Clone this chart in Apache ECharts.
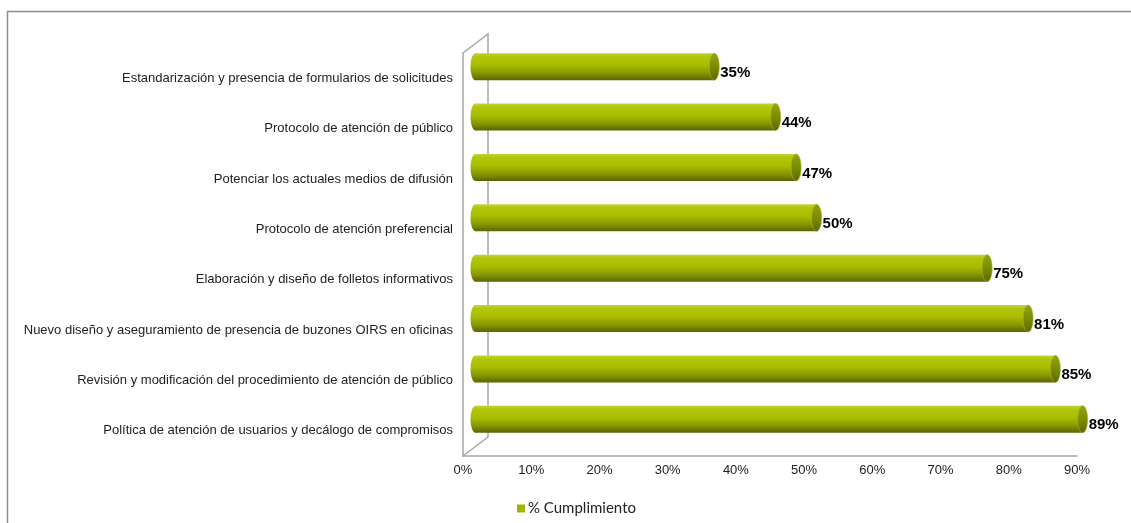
<!DOCTYPE html>
<html>
<head>
<meta charset="utf-8">
<script src="https://cdn.jsdelivr.net/npm/echarts@6/dist/echarts.min.js"></script>
<style>
  html, body { margin: 0; padding: 0; background: #ffffff; }
  #chart { width: 1131px; height: 523px; }
</style>
</head>
<body>
<div id="chart"></div>
<script>
// Compliance per improvement action (share of 1)
const categories = [
  'Estandarización y presencia de formularios de solicitudes',
  'Protocolo de atención de público',
  'Potenciar los actuales medios de difusión',
  'Protocolo de atención preferencial',
  'Elaboración y diseño de folletos informativos',
  'Nuevo diseño y aseguramiento de presencia de buzones OIRS en oficinas',
  'Revisión y modificación del procedimiento de atención de público',
  'Política de atención de usuarios y decálogo de compromisos'
];
const cumplimiento = [0.35, 0.44, 0.47, 0.50, 0.75, 0.81, 0.85, 0.89];
const tickValues = [0, 0.1, 0.2, 0.3, 0.4, 0.5, 0.6, 0.7, 0.8, 0.9];
const seriesName = '% Cumplimiento';

const chart = echarts.init(document.getElementById('chart'));

// depth of the 3D box (back wall offset) and bar placement at mid-depth
const DEPTH_X = 25, DEPTH_Y = -19;
const BAR_DX = 12.5, BAR_DY = -11.5;
const BAR_H = 27, CAP_RX = 5;

const bodyFill = {
  type: 'linear', x: 0, y: 0, x2: 0, y2: 1,
  colorStops: [
    { offset: 0, color: '#c4d43a' },
    { offset: 0.12, color: '#b3c70a' },
    { offset: 0.45, color: '#a9bc00' },
    { offset: 0.75, color: '#859500' },
    { offset: 1, color: '#5a6400' }
  ]
};
const capFill = {
  type: 'linear', x: 0, y: 0, x2: 0, y2: 1,
  colorStops: [
    { offset: 0, color: '#93a414' },
    { offset: 0.5, color: '#7c8c00' },
    { offset: 1, color: '#5c6700' }
  ]
};

function renderBar(params, api) {
  const c = api.value(1);
  const v = api.value(0);
  const p0 = api.coord([0, c]);
  const p1 = api.coord([v, c]);
  const x0 = p0[0] + BAR_DX;
  const x1 = p1[0] + BAR_DX;
  const cy = p0[1] + BAR_DY;
  return {
    type: 'group',
    children: [
      { type: 'ellipse', shape: { cx: x0, cy: cy, rx: CAP_RX, ry: BAR_H / 2 },
        style: { fill: bodyFill } },
      { type: 'rect', shape: { x: x0, y: cy - BAR_H / 2, width: x1 - x0, height: BAR_H },
        style: { fill: bodyFill } },
      { type: 'ellipse', shape: { cx: x1, cy: cy, rx: CAP_RX, ry: BAR_H / 2 },
        style: { fill: capFill, stroke: '#a8b830', lineWidth: 0.6 } },
      { type: 'text', x: x1 + CAP_RX + 1, y: cy + 6,
        style: {
          text: Math.round(v * 100) + '%',
          fill: '#000000',
          font: 'bold 15px "Liberation Sans", Arial, sans-serif',
          textAlign: 'left', textVerticalAlign: 'middle'
        } }
    ]
  };
}

// side wall and floor edges of the 3D box
function renderWalls(params, api) {
  const cs = params.coordSys;
  const left = cs.x, top = cs.y, bottom = cs.y + cs.height;
  return {
    type: 'polyline',
    shape: {
      points: [
        [left, bottom],
        [left + DEPTH_X, bottom + DEPTH_Y],
        [left + DEPTH_X, top + DEPTH_Y],
        [left, top]
      ]
    },
    style: { stroke: '#a6a6a6', lineWidth: 1.5, fill: null },
    silent: true
  };
}

chart.setOption({
  animation: false,
  backgroundColor: '#ffffff',
  grid: { left: 463, right: 54, top: 53, bottom: 67, containLabel: false },
  xAxis: {
    type: 'value',
    min: 0, max: 0.9, interval: 0.1,
    axisLine: { show: true, lineStyle: { color: '#a6a6a6', width: 1.5 } },
    axisTick: { show: false },
    splitLine: { show: false },
    axisLabel: {
      margin: 8,
      color: '#222222',
      fontSize: 13,
      fontFamily: '"Liberation Sans", Arial, sans-serif',
      formatter: function (val) {
        const i = tickValues.findIndex(t => Math.abs(t - val) < 1e-9);
        return i >= 0 ? Math.round(tickValues[i] * 100) + '%' : '';
      }
    }
  },
  yAxis: {
    type: 'category',
    data: categories,
    inverse: true,
    axisLine: { show: true, lineStyle: { color: '#a6a6a6', width: 1.5 } },
    axisTick: { show: false },
    splitLine: { show: false },
    axisLabel: {
      margin: 10,
      color: '#222222',
      fontSize: 13,
      fontFamily: '"Liberation Sans", Arial, sans-serif'
    }
  },
  legend: {
    left: 512, top: 496,
    icon: 'rect', itemWidth: 8, itemHeight: 8, itemGap: 4,
    textStyle: { color: '#222222', fontSize: 15, fontFamily: 'Lato, "Open Sans", sans-serif', padding: [0, 0, 0, -2] },
    data: [seriesName]
  },
  graphic: [
    { type: 'rect', silent: true,
      shape: { x: 7.5, y: 11.5, width: 1300, height: 700 },
      style: { fill: null, stroke: '#8c8c8c', lineWidth: 1.5 } }
  ],
  series: [
    {
      type: 'custom',
      name: 'walls',
      silent: true,
      renderItem: renderWalls,
      data: [[0, 0]],
      encode: { x: 0, y: 1 },
      z: 1
    },
    {
      type: 'custom',
      name: seriesName,
      itemStyle: { color: '#a0b400' },
      renderItem: renderBar,
      data: cumplimiento.map((v, i) => [v, i]),
      encode: { x: 0, y: 1 },
      z: 3
    }
  ]
});
</script>
</body>
</html>
